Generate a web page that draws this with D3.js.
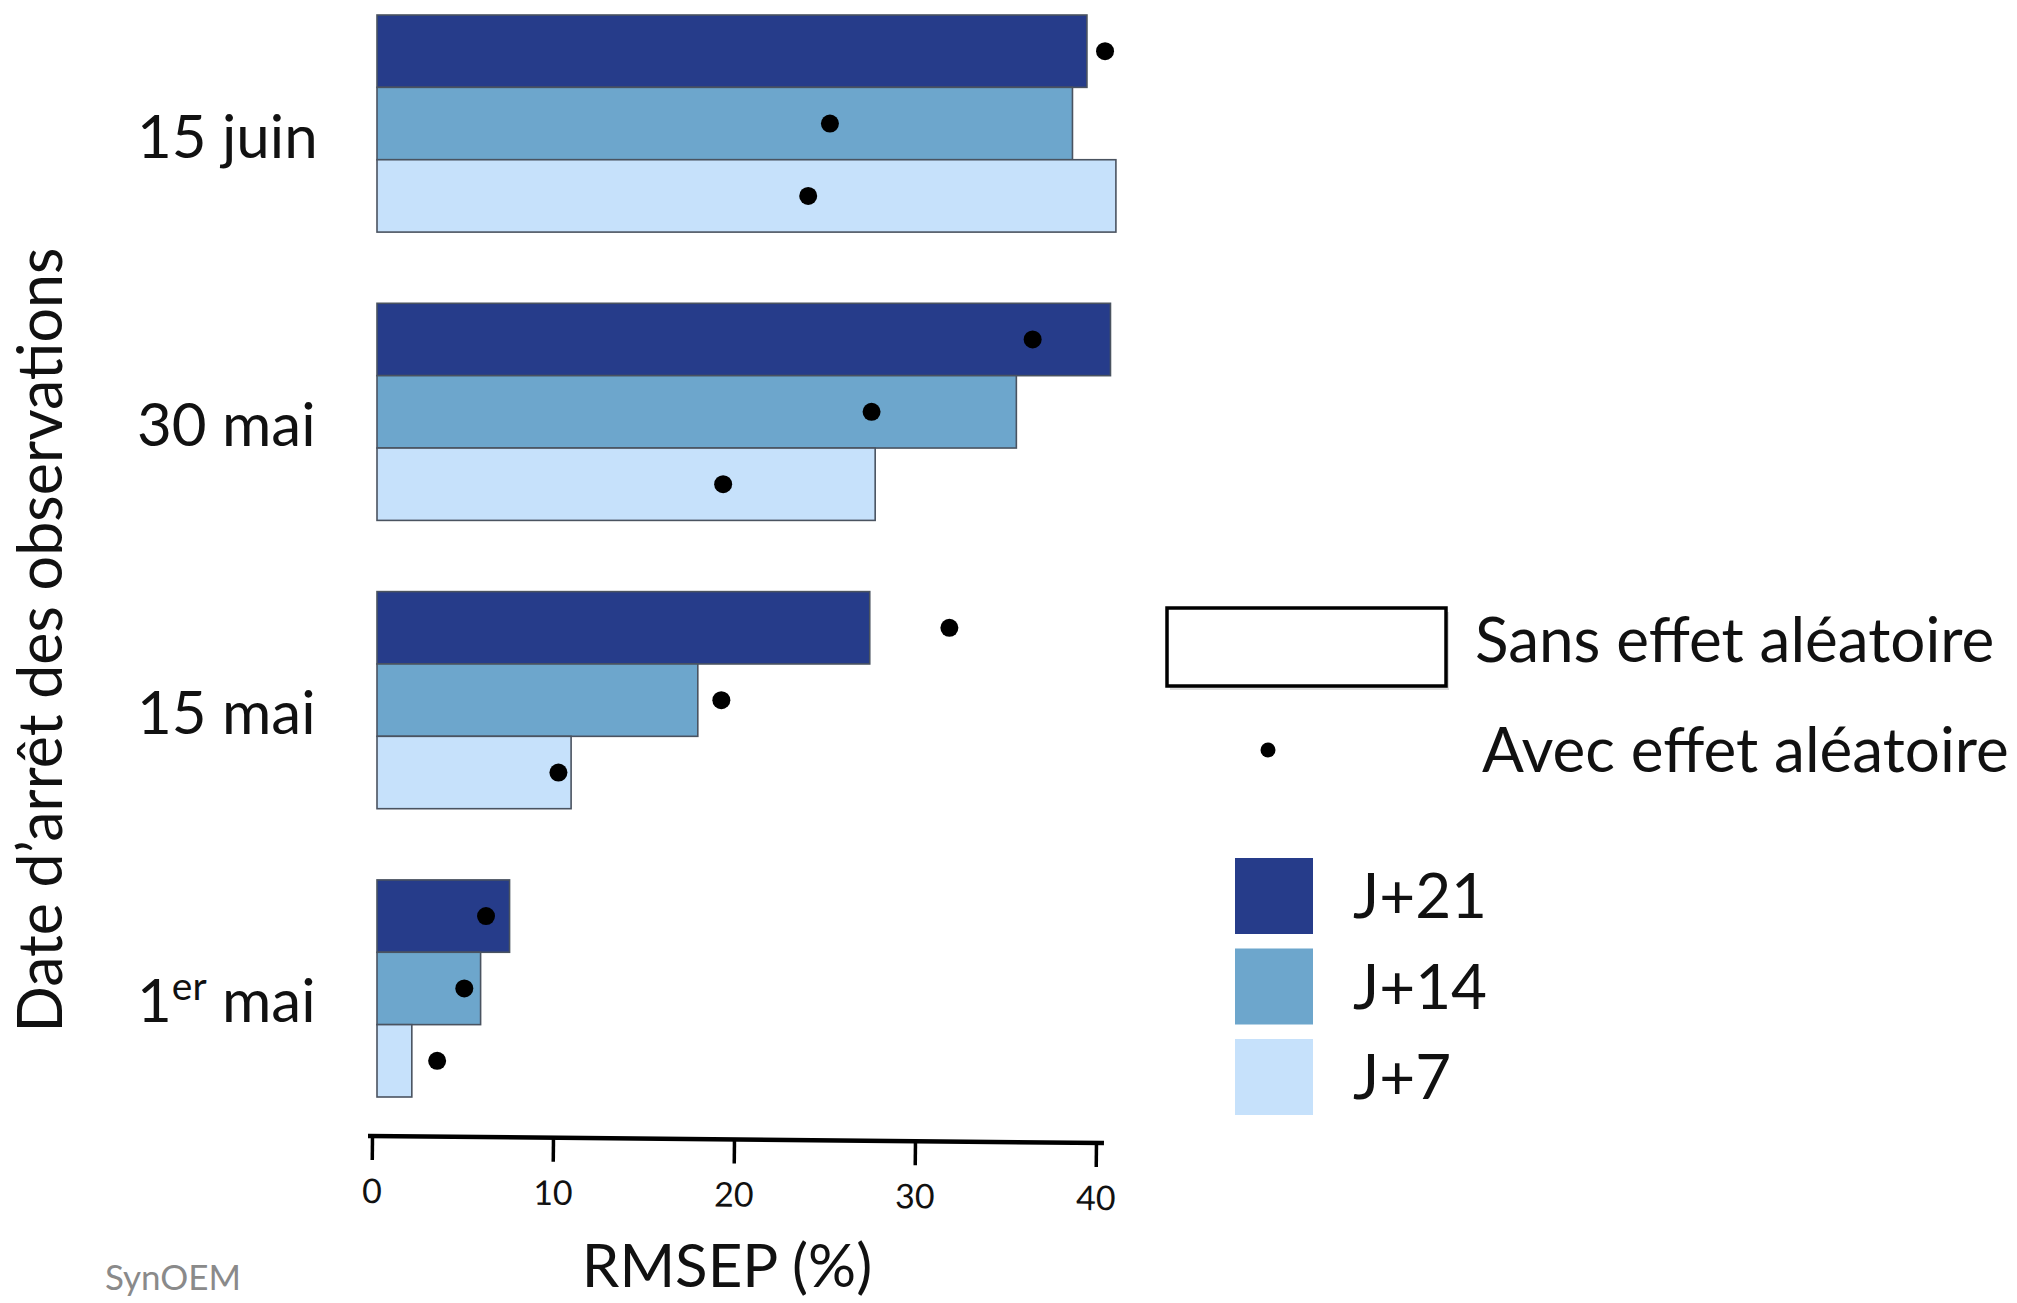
<!DOCTYPE html>
<html>
<head>
<meta charset="utf-8">
<script src="https://cdn.jsdelivr.net/npm/d3@7"></script>
<style>
  html, body { margin: 0; padding: 0; background: #ffffff; }
  svg { display: block; font-family: Lato, "Open Sans", sans-serif; }
</style>
</head>
<body>
<svg id="chart" width="2017" height="1303"></svg>
<script>
// ---- data ----
const categories = ["15 juin", "30 mai", "15 mai", "1er mai"];
const series = ["J+21", "J+14", "J+7"];
// bars: RMSEP sans effet aléatoire (%)
const sansJ21 = [39.5, 40.8, 27.5, 7.6];
const sansJ14 = [38.7, 35.6, 18.0, 6.0];
const sansJ7  = [41.1, 27.8, 11.0, 2.2];
// dots: RMSEP avec effet aléatoire (%)
const avecJ21 = [40.5, 36.5, 31.9, 6.3];
const avecJ14 = [25.3, 27.6, 19.3, 5.1];
const avecJ7  = [24.1, 19.4, 10.3, 3.6];
const xTicks = [0, 10, 20, 30, 40];
const seriesColors = ["#263c8a", "#6da6cc", "#c6e1fb"];
const legendShape = ["Sans effet aléatoire", "Avec effet aléatoire"];
const yTitle = "Date d’arrêt des observations";
const xTitle = "RMSEP (%)";
const sourceNote = "SynOEM";

const sansBySeries = [sansJ21, sansJ14, sansJ7];
const avecBySeries = [avecJ21, avecJ14, avecJ7];

const rows = [];
categories.forEach((c, ci) => {
  series.forEach((s, si) => {
    rows.push({cat: c, ser: s, sans: sansBySeries[si][ci], avec: avecBySeries[si][ci]});
  });
});

// ---- scales ----
const svg = d3.select("#chart");
const x = d3.scaleLinear().domain([0, 40]).range([372, 1096]);
const y = d3.scaleBand().domain(categories).range([15, 1097]).paddingInner(0.247).paddingOuter(0);
const ySub = d3.scaleBand().domain(series).range([0, y.bandwidth()]).padding(0);
const color = d3.scaleOrdinal().domain(series).range(seriesColors);
const barStart = x(0) + 5;

// ---- bars ----
svg.append("g").selectAll("rect").data(rows).join("rect")
  .attr("x", barStart)
  .attr("y", d => y(d.cat) + ySub(d.ser))
  .attr("width", d => x(d.sans) - barStart)
  .attr("height", ySub.bandwidth())
  .attr("fill", d => color(d.ser))
  .attr("stroke", "#4a5360")
  .attr("stroke-width", 1.6);

// ---- dots ----
svg.append("g").selectAll("circle").data(rows).join("circle")
  .attr("cx", d => x(d.avec))
  .attr("cy", d => y(d.cat) + ySub(d.ser) + ySub.bandwidth() / 2)
  .attr("r", 9)
  .attr("fill", "#000");

// ---- category labels ----
const catG = svg.append("g");
categories.forEach(c => {
  const t = catG.append("text")
    .attr("x", 137)
    .attr("y", y(c) + y.bandwidth() / 2 + 34)
    .attr("font-size", 60)
    .attr("fill", "#111");
  const m = c.match(/^(\d+)(er)(.*)$/);
  if (m) {
    t.append("tspan").text(m[1]);
    t.append("tspan").text(m[2]).attr("font-size", 39).attr("dy", -22);
    t.append("tspan").text(m[3]).attr("dy", 22);
  } else {
    t.text(c);
  }
});

// ---- x axis ----
const axisG = svg.append("g")
  .attr("transform", "translate(0,1136) rotate(0.55, 372, 0)")
  .call(d3.axisBottom(x).tickValues(xTicks).tickSize(24).tickSizeOuter(0).tickPadding(19));
axisG.select(".domain").attr("stroke", "#000").attr("stroke-width", 4.5)
  .attr("d", `M${x(0) - 4},0H${x(40) + 8}`);
axisG.selectAll(".tick line").attr("stroke", "#000").attr("stroke-width", 3.5);
axisG.selectAll(".tick text").attr("font-size", 34).attr("fill", "#111")
  .attr("font-family", "Lato, sans-serif");

// x title
svg.append("text")
  .attr("x", 727).attr("y", 1287)
  .attr("text-anchor", "middle")
  .attr("font-size", 60).attr("fill", "#111")
  .text(xTitle);

// y title
svg.append("text")
  .attr("transform", "translate(62,640) rotate(-90)")
  .attr("text-anchor", "middle")
  .attr("font-size", 61).attr("fill", "#111")
  .text(yTitle);

// source
svg.append("text")
  .attr("x", 105).attr("y", 1290)
  .attr("font-size", 35).attr("fill", "#8a8a8a")
  .text(sourceNote);

// ---- legend ----
const lg = svg.append("g");
lg.append("rect").attr("x", 1170).attr("y", 612).attr("width", 279).attr("height", 78)
  .attr("fill", "#bbb").attr("opacity", 0.5);
lg.append("rect").attr("x", 1167).attr("y", 608).attr("width", 279).attr("height", 78)
  .attr("fill", "#fff").attr("stroke", "#000").attr("stroke-width", 3.5);
lg.append("text").attr("x", 1475).attr("y", 662).attr("font-size", 62).attr("fill", "#111")
  .text(legendShape[0]);
lg.append("circle").attr("cx", 1268).attr("cy", 750).attr("r", 7.5).attr("fill", "#000");
lg.append("text").attr("x", 1482).attr("y", 772).attr("font-size", 62).attr("fill", "#111")
  .text(legendShape[1]);

const sw = lg.selectAll("g.sw").data(series).join("g").attr("class", "sw")
  .attr("transform", (d, i) => `translate(1235,${858 + i * 90.5})`);
sw.append("rect").attr("width", 78).attr("height", 76).attr("fill", d => color(d));
sw.append("text").attr("x", 118).attr("y", 60).attr("font-size", 62).attr("fill", "#111")
  .text(d => d);
</script>
</body>
</html>
